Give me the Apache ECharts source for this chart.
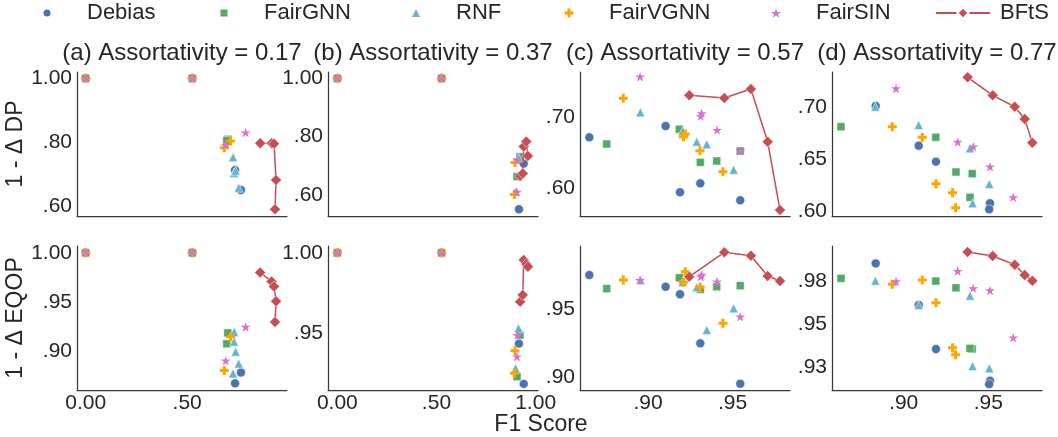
<!DOCTYPE html>
<html>
<head>
<meta charset="utf-8">
<script src="https://cdn.jsdelivr.net/npm/echarts@6/dist/echarts.min.js"></script>
<style>
  html, body { margin: 0; padding: 0; background: #ffffff; }
  #chart { width: 1058px; height: 437px; }
</style>
</head>
<body>
<div id="chart"></div>
<script>
// ---- data ---------------------------------------------------------------
const methods = ['Debias', 'FairGNN', 'RNF', 'FairVGNN', 'FairSIN', 'BFtS'];
const panelTitles = [
  '(a) Assortativity = 0.17',
  '(b) Assortativity = 0.37',
  '(c) Assortativity = 0.57',
  '(d) Assortativity = 0.77'
];

// Assortativity 0.17: one list per method (same order as `methods`)
const f1A = [
  [0, 0.525, 0.736, 0.765],
  [0, 0.525, 0.700, 0.695],
  [0.726, 0.732, 0.754, 0.731, 0.739],
  [0, 0.525, 0.714, 0.683],
  [0, 0.525, 0.690, 0.788],
  [0.860, 0.916, 0.928, 0.938, 0.933]
];
const dpA = [
  [1, 1, 0.714, 0.652],
  [1, 1, 0.810, 0.806],
  [0.754, 0.704, 0.659, 0.706, 0.712],
  [1, 1, 0.805, 0.784],
  [1, 1, 0.792, 0.831],
  [0.798, 0.798, 0.796, 0.683, 0.592]
];
const eqopA = [
  [1, 1, 0.868, 0.879],
  [1, 1, 0.919, 0.908],
  [0.878, 0.920, 0.888, 0.910, 0.900],
  [1, 1, 0.915, 0.881],
  [1, 1, 0.891, 0.925],
  [0.980, 0.971, 0.966, 0.951, 0.930]
];

// Assortativity 0.37
const f1B = [
  [0, 0.526, 0.940, 0.916],
  [0, 0.526, 0.921, 0.906],
  [0.914, 0.899],
  [0, 0.526, 0.896, 0.893],
  [0, 0.526, 0.908, 0.906],
  [0.922, 0.935, 0.940, 0.953, 0.961]
];
const dpB = [
  [1, 1, 0.708, 0.551],
  [1, 1, 0.731, 0.663],
  [0.728, 0.612],
  [1, 1, 0.711, 0.602],
  [1, 1, 0.720, 0.611],
  [0.665, 0.674, 0.766, 0.783, 0.734]
];
const eqopB = [
  [1, 1, 0.9186, 0.9436],
  [1, 1, 0.9489, 0.9231],
  [0.9531, 0.9283],
  [1, 1, 0.9392, 0.9252],
  [1, 1, 0.9489, 0.9355],
  [0.9696, 0.9738, 0.9955, 0.9930, 0.9913]
];

// Assortativity 0.57
const f1C = [
  [0.8653, 0.9104, 0.9189, 0.9309, 0.9545],
  [0.8756, 0.9185, 0.9309, 0.9406, 0.9545],
  [0.8955, 0.9205, 0.9288, 0.9347, 0.9506],
  [0.8854, 0.9209, 0.9220, 0.9307, 0.9443],
  [0.8953, 0.9317, 0.9311, 0.9408, 0.9545],
  [0.9244, 0.9451, 0.9608, 0.9707, 0.9780]
];
const dpC = [
  [0.6718, 0.6877, 0.5944, 0.6070, 0.5831],
  [0.6624, 0.6831, 0.6366, 0.6385, 0.6525],
  [0.7070, 0.6807, 0.6656, 0.6620, 0.6262],
  [0.7268, 0.6727, 0.6765, 0.6530, 0.6234],
  [0.7572, 0.7056, 0.7019, 0.6821, 0.6530],
  [0.7310, 0.7272, 0.7399, 0.6656, 0.5694]
];
const eqopC = [
  [0.9751, 0.9665, 0.9610, 0.9251, 0.8956],
  [0.9651, 0.9731, 0.9646, 0.9665, 0.9673],
  [0.9714, 0.9700, 0.9661, 0.9349, 0.9507],
  [0.9714, 0.9698, 0.9775, 0.9661, 0.9398],
  [0.9714, 0.9751, 0.9739, 0.9702, 0.9446],
  [0.9739, 0.9917, 0.9892, 0.9744, 0.9707]
];

// Assortativity 0.77
const f1D = [
  [0.8835, 0.9089, 0.9191, 0.9510, 0.9505],
  [0.8630, 0.9190, 0.9309, 0.9405, 0.9392],
  [0.8833, 0.9089, 0.9392, 0.9506, 0.9407],
  [0.8933, 0.9110, 0.9191, 0.9289, 0.9307],
  [0.8955, 0.9319, 0.9411, 0.9510, 0.9647],
  [0.9378, 0.9526, 0.9656, 0.9715, 0.9760]
];
const dpD = [
  [0.7007, 0.6626, 0.6473, 0.6074, 0.6016],
  [0.6808, 0.6707, 0.6374, 0.6358, 0.6131],
  [0.7000, 0.6825, 0.6601, 0.6259, 0.6074],
  [0.6808, 0.6707, 0.6262, 0.6175, 0.6032],
  [0.7176, 0.6662, 0.6617, 0.6425, 0.6131],
  [0.7282, 0.7109, 0.7000, 0.6882, 0.6655]
];
const eqopD = [
  [0.9851, 0.9609, 0.9353, 0.9169, 0.9149],
  [0.9764, 0.9748, 0.9709, 0.9353, 0.9357],
  [0.9750, 0.9609, 0.9663, 0.9241, 0.9254],
  [0.9729, 0.9754, 0.9622, 0.9360, 0.9320],
  [0.9746, 0.9806, 0.9706, 0.9694, 0.9419],
  [0.9917, 0.9894, 0.9843, 0.9783, 0.9750]
];

// tick values and their printed labels
const xTicksAB = [[0, 0.5], [0, 0.5, 1.0]];
const xTickLabelsAB = [['0.00', '.50'], ['0.00', '.50', '1.00']];
const xTicksCD = [0.90, 0.95];
const xTickLabelsCD = ['.90', '.95'];
const dpTicks = [[0.6, 0.8, 1.0], [0.6, 0.8, 1.0], [0.60, 0.70], [0.60, 0.65, 0.70]];
const dpTickLabels = [['.60', '.80', '1.00'], ['.60', '.80', '1.00'], ['.60', '.70'], ['.60', '.65', '.70']];
const eqopTicks = [[0.90, 0.95, 1.0], [0.95, 1.0], [0.90, 0.95], [0.925, 0.95, 0.975]];
const eqopTickLabels = [['.90', '.95', '1.00'], ['.95', '1.00'], ['.90', '.95'], ['.93', '.95', '.98']];

// ---- layout & style -------------------------------------------------------
const FONT = '"Liberation Sans", Arial, Helvetica, sans-serif';
const TEXT = '#262626';
const colors = ['#4C72B0', '#55A868', '#64B5CD', '#FFA500', '#DA70D6', '#C44E52'];
const PLUS = 'path://M-1,-3L1,-3L1,-1L3,-1L3,1L1,1L1,3L-1,3L-1,1L-3,1L-3,-1L-1,-1Z';
const STAR = 'path://M0,-1L0.2245,-0.309L0.951,-0.309L0.363,0.118L0.588,0.809L0,0.382L-0.588,0.809L-0.363,0.118L-0.951,-0.309L-0.2245,-0.309Z';
const symbols = ['circle', 'rect', 'triangle', PLUS, STAR, 'diamond'];
const symbolSizes = [9, 8, 9, 9, 10, 11];
const borderWidths = [0.5, 0.5, 0.5, 0, 0, 0.5];
const legendIconSizes = [7, 7, 8, 9, 10];

const colLeft = [77, 328, 580, 832];
const colWidth = 210;
const rowTop = [72, 246];
const rowHeight = 144;

const xRanges = [[-0.043, 0.992], [-0.047, 1.012], [0.8598, 0.9839], [0.8577, 0.9817]];
const yRanges = [
  [[0.571, 1.0196], [0.528, 1.0216], [0.561, 0.7638], [0.5952, 0.7333]],
  [[0.8613, 1.0068], [0.9148, 1.0042], [0.891, 0.9963], [0.9115, 0.9952]]
];

const f1Sets = [f1A, f1B, f1C, f1D];
const metricSets = [[dpA, dpB, dpC, dpD], [eqopA, eqopB, eqopC, eqopD]];

const grids = [], xAxes = [], yAxes = [], series = [];
const axisLineStyle = { show: true, onZero: false, lineStyle: { color: '#3a3a3a', width: 1.25 } };

function labelFrom(ticks, labels) {
  return v => {
    const i = ticks.findIndex(t => Math.abs(t - v) < 1e-9);
    return i >= 0 ? labels[i] : '';
  };
}

for (let row = 0; row < 2; row++) {
  for (let col = 0; col < 4; col++) {
    const p = row * 4 + col;
    grids.push({ left: colLeft[col], top: rowTop[row], width: colWidth, height: rowHeight });

    const xt = col < 2 ? xTicksAB[col] : xTicksCD;
    const xl = col < 2 ? xTickLabelsAB[col] : xTickLabelsCD;
    xAxes.push({
      type: 'value', gridIndex: p, min: xRanges[col][0], max: xRanges[col][1],
      axisLine: axisLineStyle, axisTick: { show: false }, splitLine: { show: false },
      axisLabel: {
        show: row === 1, customValues: xt, formatter: labelFrom(xt, xl),
        fontSize: 21, fontFamily: FONT, color: TEXT, margin: 3
      }
    });

    const yt = row === 0 ? dpTicks[col] : eqopTicks[col];
    const yl = row === 0 ? dpTickLabels[col] : eqopTickLabels[col];
    yAxes.push({
      type: 'value', gridIndex: p, min: yRanges[row][col][0], max: yRanges[row][col][1],
      axisLine: axisLineStyle, axisTick: { show: false }, splitLine: { show: false },
      axisLabel: {
        customValues: yt, formatter: labelFrom(yt, yl),
        fontSize: 21, fontFamily: FONT, color: TEXT, margin: 5
      },
      name: col === 0 ? (row === 0 ? '1 - \u0394 DP' : '1 - \u0394 EQOP') : '',
      nameLocation: 'middle', nameGap: 50,
      nameTextStyle: { fontSize: 23, fontFamily: FONT, color: TEXT }
    });

    const xs = f1Sets[col];
    const ys = metricSets[row][col];
    methods.forEach((m, k) => {
      const data = xs[k].map((x, i) => [x, ys[k][i]]);
      if (k === 5) {
        series.push({
          name: m, type: 'line', xAxisIndex: p, yAxisIndex: p, data,
          symbol: 'diamond', symbolSize: symbolSizes[k], showSymbol: true,
          lineStyle: { color: colors[k], width: 1.5 },
          itemStyle: { color: colors[k], borderColor: '#ffffff', borderWidth: borderWidths[k] },
          z: 5
        });
      } else {
        series.push({
          name: m, type: 'scatter', xAxisIndex: p, yAxisIndex: p, data,
          symbol: symbols[k], symbolSize: symbolSizes[k], symbolKeepAspect: true,
          itemStyle: { color: colors[k], borderColor: '#ffffff', borderWidth: borderWidths[k], opacity: 1 },
          z: 2
        });
      }
    });
  }
}

// one legend block per method so each entry sits at its own spot
const legendMarkerX = [47, 224, 416, 569, 776];
const legends = methods.map((m, k) => {
  if (k < 5) {
    const s = legendIconSizes[k];
    return {
      data: [{ name: m, icon: symbols[k], itemStyle: { borderWidth: 0 } }],
      left: legendMarkerX[k] - s / 2, top: 2, padding: 0,
      itemWidth: s, itemHeight: s, itemGap: 0, selectedMode: false,
      textStyle: { fontSize: 22, fontFamily: FONT, color: TEXT, padding: [0, 0, 0, 35 - s / 2] }
    };
  }
  return {
    data: [m], left: 935, top: 2, padding: 0,
    itemWidth: 54, itemHeight: 14, itemGap: 0, selectedMode: false,
    textStyle: { fontSize: 22, fontFamily: FONT, color: TEXT, padding: [0, 0, 0, 5] }
  };
});

const graphics = panelTitles.map((t, c) => ({
  type: 'text', x: colLeft[c] + colWidth / 2, y: 53,
  style: { text: t, font: '24px ' + FONT, fill: TEXT, textAlign: 'center', textVerticalAlign: 'middle' }
}));
graphics.push({
  type: 'text', x: 541, y: 425,
  style: { text: 'F1 Score', font: '23px ' + FONT, fill: TEXT, textAlign: 'center', textVerticalAlign: 'middle' }
});

const chart = echarts.init(document.getElementById('chart'));
chart.setOption({
  animation: false,
  backgroundColor: '#ffffff',
  legend: legends,
  grid: grids,
  xAxis: xAxes,
  yAxis: yAxes,
  graphic: graphics,
  series
});
</script>
</body>
</html>
